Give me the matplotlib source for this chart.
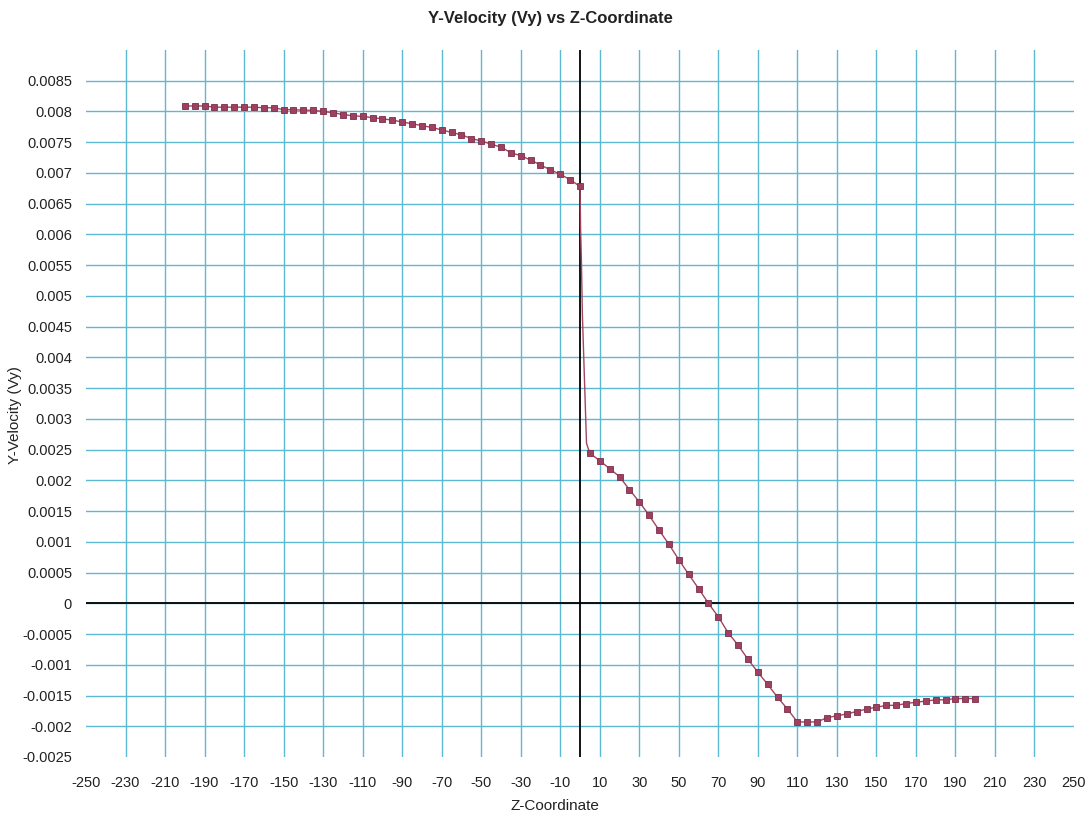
import matplotlib
matplotlib.use("Agg")
import matplotlib.pyplot as plt

plt.rcParams['font.family'] = ['Liberation Sans', 'DejaVu Sans']
plt.rcParams['axes.unicode_minus'] = False

# ---- data ----
z_left = [-200, -195, -190, -185, -180, -175, -170, -165, -160, -155,
          -150, -145, -140, -135, -130, -125, -120, -115, -110, -105,
          -100, -95, -90, -85, -80, -75, -70, -65, -60, -55,
          -50, -45, -40, -35, -30, -25, -20, -15, -10, -5, 0]
vy_left = [0.00809, 0.00809, 0.00809, 0.00807, 0.00807, 0.00807, 0.00807, 0.00807, 0.00806, 0.00806,
           0.00803, 0.00803, 0.00802, 0.00802, 0.00800, 0.00798, 0.00795, 0.00793, 0.00792, 0.00790,
           0.00788, 0.00786, 0.00783, 0.00780, 0.00777, 0.00774, 0.00770, 0.00766, 0.00762, 0.00756,
           0.00752, 0.00747, 0.00742, 0.00733, 0.00728, 0.00721, 0.00713, 0.00705, 0.00698, 0.00689, 0.00678]

# unmarked transition points of the steep drop
z_drop = [0.3, 0.7, 1.2, 2.2, 3.3]
vy_drop = [0.00610, 0.00560, 0.00470, 0.00370, 0.00260]

z_right = [5, 10, 15, 20, 25, 30, 35, 40, 45, 50,
           55, 60, 65, 70, 75, 80, 85, 90, 95, 100,
           105, 110, 115, 120, 125, 130, 135, 140, 145, 150,
           155, 160, 165, 170, 175, 180, 185, 190, 195, 200]
vy_right = [0.00244, 0.00232, 0.00219, 0.00206, 0.00185, 0.00165, 0.00143, 0.00119, 0.00096, 0.00071,
            0.00047, 0.00024, 0.00000, -0.00022, -0.00048, -0.00068, -0.00091, -0.00112, -0.00132, -0.00153,
            -0.00172, -0.00193, -0.00193, -0.00193, -0.00186, -0.00183, -0.00180, -0.00176, -0.00172, -0.00169,
            -0.00166, -0.00166, -0.00163, -0.00161, -0.00159, -0.00157, -0.00157, -0.00155, -0.00155, -0.00155]

x_ticks = [-250, -230, -210, -190, -170, -150, -130, -110, -90, -70, -50, -30, -10,
           10, 30, 50, 70, 90, 110, 130, 150, 170, 190, 210, 230, 250]
y_ticks = [-0.0025, -0.002, -0.0015, -0.001, -0.0005, 0, 0.0005, 0.001, 0.0015, 0.002,
           0.0025, 0.003, 0.0035, 0.004, 0.0045, 0.005, 0.0055, 0.006, 0.0065, 0.007,
           0.0075, 0.008, 0.0085]
y_tick_labels = ['-0.0025', '-0.002', '-0.0015', '-0.001', '-0.0005', '0', '0.0005', '0.001',
                 '0.0015', '0.002', '0.0025', '0.003', '0.0035', '0.004', '0.0045', '0.005',
                 '0.0055', '0.006', '0.0065', '0.007', '0.0075', '0.008', '0.0085']

title = 'Y-Velocity (Vy) vs Z-Coordinate'
x_label = 'Z-Coordinate'
y_label = 'Y-Velocity (Vy)'

# ---- figure ----
W, H = 1089, 818
fig = plt.figure(figsize=(W / 100, H / 100), dpi=100)
ax = fig.add_axes([86 / W, 1 - 757 / H, (1074 - 86) / W, (757 - 50) / H])

xmin, xmax = -250, 250
ymin, ymax = -0.0025, 0.009
ax.set_xlim(xmin, xmax)
ax.set_ylim(ymin, ymax)

grid_color = '#5cb9d2'
for xv in x_ticks:
    if xmin < xv < xmax:
        ax.axvline(xv, color=grid_color, lw=1.0, zorder=1)
for yv in y_ticks:
    if ymin < yv < ymax:
        ax.axhline(yv, color=grid_color, lw=1.0, zorder=1)

ax.axvline(0, color='black', lw=1.3, zorder=2)
ax.axhline(0, color='black', lw=1.3, zorder=2)

z_all = z_left + z_drop + z_right
vy_all = vy_left + vy_drop + vy_right
n_left = len(z_left)
n_drop = len(z_drop)
marked = list(range(n_left)) + list(range(n_left + n_drop, len(z_all)))

line_color = '#a3455f'
ax.plot(z_all, vy_all, color=line_color, lw=1.0, marker='s', markersize=5,
        markerfacecolor='#9e4160', markeredgecolor='#7d2e48', markeredgewidth=0.6,
        markevery=marked, zorder=3)

ax.set_xticks(x_ticks)
ax.set_xticklabels([str(v) for v in x_ticks])
ax.set_yticks(y_ticks)
ax.set_yticklabels(y_tick_labels)
ax.tick_params(axis='both', length=0, labelsize=10.5, colors='#222222')
ax.tick_params(axis='x', pad=14)
ax.tick_params(axis='y', pad=10)

for s in ax.spines.values():
    s.set_visible(False)

fig.text(550 / W, 1 - 19 / H, title, ha='center', va='center',
         fontsize=12, fontweight='bold', color='#222222')
fig.text(555 / W, 1 - 806 / H, x_label, ha='center', va='center',
         fontsize=11, color='#222222')
fig.text(15 / W, 1 - 415 / H, y_label, ha='center', va='center',
         rotation=90, fontsize=11, color='#222222')

fig.savefig('out.png', dpi=100)
